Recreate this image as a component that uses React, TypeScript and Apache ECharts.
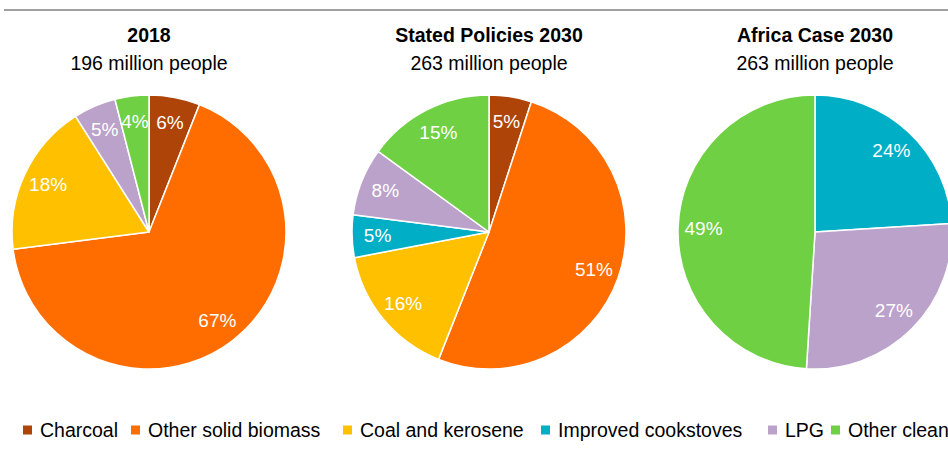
import React, { useEffect, useRef } from "react";
import * as echarts from "echarts";

const categories = [
  "Charcoal",
  "Other solid biomass",
  "Coal and kerosene",
  "Improved cookstoves",
  "LPG",
  "Other clean",
];
const colors = ["#AE4407", "#FF6D00", "#FFC000", "#00AFC6", "#BBA2CB", "#6FD044"];

const chartTitles = ["2018", "Stated Policies 2030", "Africa Case 2030"];
const chartSubtitles = ["196 million people", "263 million people", "263 million people"];

const values2018 = [6, 67, 18, 0, 5, 4];
const valuesStated2030 = [5, 51, 16, 5, 8, 15];
const valuesAfrica2030 = [0, 0, 0, 24, 27, 49];

const allValues = [values2018, valuesStated2030, valuesAfrica2030];

const FONT = "'Liberation Sans', Arial, sans-serif";
const centersX = [149, 489, 815];
const centerY = 232;
const R = 137;
const legendLeft = [21, 129, 341, 539, 766, 829];

export default function App() {
  const ref = useRef<HTMLDivElement>(null);
  useEffect(() => {
    if (!ref.current) return;
    const chart = echarts.init(ref.current, null, { renderer: "svg" });
    const series: any[] = [];
    allValues.forEach((vals, i) => {
      const data = categories
        .map((name, k) => ({ name, value: vals[k], itemStyle: { color: colors[k] } }))
        .filter((d) => d.value > 0);
      series.push({
        type: "pie",
        center: [centersX[i], centerY],
        radius: [0, R],
        startAngle: 90,
        clockwise: true,
        silent: true,
        label: { show: false },
        labelLine: { show: false },
        itemStyle: { borderColor: "#fff", borderWidth: 1.5 },
        data,
      });
      series.push({
        type: "pie",
        center: [centersX[i], centerY],
        radius: [80, R],
        startAngle: 90,
        clockwise: true,
        silent: true,
        label: {
          show: true,
          position: "inside",
          formatter: "{c}%",
          color: "#fff",
          fontFamily: FONT,
          fontSize: 19,
        },
        labelLine: { show: false },
        itemStyle: { color: "rgba(0,0,0,0)", borderWidth: 0 },
        data: data.map((d) => ({ name: d.name, value: d.value, itemStyle: { color: "rgba(0,0,0,0)" } })),
      });
    });

    const graphics: any[] = [
      {
        type: "line",
        shape: { x1: 4, y1: 10, x2: 1000, y2: 10 },
        style: { stroke: "#A0A0A0", lineWidth: 2 },
      },
    ];
    chartTitles.forEach((t, i) => {
      graphics.push({
        type: "text",
        x: centersX[i],
        y: 35,
        style: {
          text: t,
          font: `bold 19.5px ${FONT}`,
          fill: "#000",
          align: "center",
          verticalAlign: "middle",
          textAlign: "center",
          textVerticalAlign: "middle",
        },
      });
      graphics.push({
        type: "text",
        x: centersX[i],
        y: 63,
        style: {
          text: chartSubtitles[i],
          font: `19.5px ${FONT}`,
          fill: "#000",
          align: "center",
          verticalAlign: "middle",
          textAlign: "center",
          textVerticalAlign: "middle",
        },
      });
    });

    const legends = categories.map((name, k) => ({
      left: legendLeft[k],
      top: 420,
      orient: "horizontal",
      icon: "rect",
      itemWidth: 11,
      itemHeight: 11,
      itemGap: 0,
      padding: 0,
      selectedMode: false,
      textStyle: { fontFamily: FONT, fontSize: 19.5, color: "#000", padding: [0, 0, 0, 2] },
      data: [{ name, itemStyle: { color: colors[k] } }],
    }));

    chart.setOption({
      animation: false,
      legend: legends,
      graphic: graphics,
      series,
    });
    return () => chart.dispose();
  }, []);
  return (
    <div
      style={{
        position: "fixed",
        left: 0,
        top: 0,
        width: 948,
        height: 451,
        overflow: "hidden",
        background: "#fff",
      }}
    >
      <div ref={ref} style={{ width: 1000, height: 451 }} />
    </div>
  );
}
